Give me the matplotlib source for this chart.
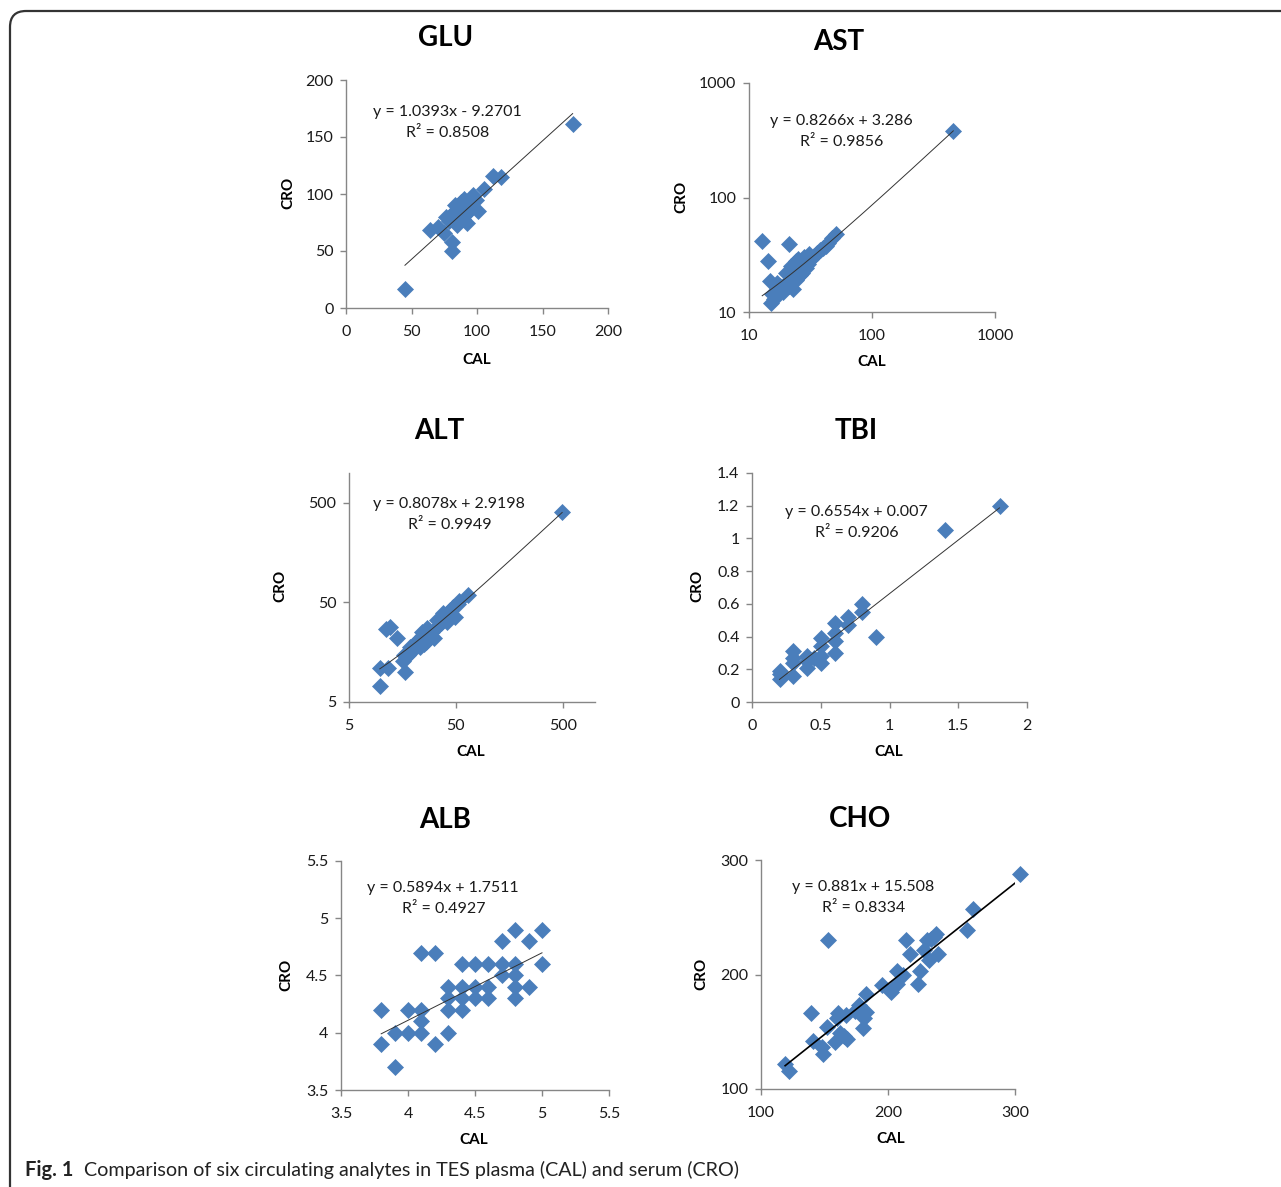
import numpy as np
import matplotlib
matplotlib.use("Agg")
import matplotlib.pyplot as plt
from matplotlib.patches import FancyBboxPatch

plt.rcParams['font.family'] = ['Lato', 'DejaVu Sans']

W, H = 1281, 1187
BLUE = '#4a7ebb'
AX_GRAY = '#868686'

# ---- data (CAL vs CRO) ----
glu_cal = [173, 45, 81, 81, 64, 70, 75, 112, 118, 105, 101, 92, 97, 99, 90, 87, 82, 79,
           89, 95, 76, 84, 86, 88, 93, 80, 85, 94, 83, 91]
glu_cro = [161, 17, 50, 58, 68, 71, 66, 116, 115, 104, 85, 75, 99, 95, 96, 89, 83, 76,
           78, 91, 80, 86, 80, 93, 84, 78, 73, 88, 90, 82]

ast_cal = [458, 12.8, 21, 14.3, 14.8, 15, 16, 15.5, 17, 18, 19, 20, 21, 22, 23, 22, 24, 25,
           26, 27, 28, 30, 32, 34, 36, 38, 42, 44, 47, 51, 19, 24, 26, 29, 20, 23, 17, 31, 40, 28, 25]
ast_cro = [379, 42, 39, 28, 18.5, 12, 13, 14.5, 15, 17, 16, 18, 17, 20, 22, 25, 28, 24,
           27, 22, 30, 26, 29, 31, 33, 35, 38, 40, 44, 48, 15, 19, 21, 24, 22, 16, 18, 32, 36, 27, 29]

alt_cal = [493, 11, 12, 14, 9.7, 9.7, 11.5, 16.7, 16, 16.5, 18.5, 21, 24, 28, 23, 26, 31, 20,
           22, 25, 35, 33, 38, 41, 47, 49, 54, 65, 30, 27, 36, 44, 52, 19, 24, 29, 18]
alt_cro = [403, 27, 28.5, 22, 11, 7.2, 11, 10, 13, 15, 18, 20, 23, 26, 18, 20, 22, 17,
           21, 19, 30, 33, 39, 32, 45, 36, 52, 60, 25, 28, 31, 42, 48, 16, 25, 23, 15]

tbi_cal = [1.8, 1.4, 0.9, 0.8, 0.8, 0.7, 0.7, 0.6, 0.6, 0.6, 0.6, 0.5, 0.5, 0.5, 0.5,
           0.4, 0.4, 0.4, 0.3, 0.3, 0.3, 0.3, 0.2, 0.2, 0.2, 0.45]
tbi_cro = [1.2, 1.05, 0.4, 0.6, 0.55, 0.52, 0.47, 0.48, 0.42, 0.37, 0.3, 0.39, 0.34, 0.28, 0.24,
           0.28, 0.25, 0.21, 0.31, 0.27, 0.24, 0.16, 0.19, 0.17, 0.14, 0.27]

alb_cal = [3.8, 3.8, 3.9, 3.9, 4.0, 4.0, 4.1, 4.1, 4.1, 4.1, 4.2, 4.2, 4.3, 4.3, 4.3, 4.3,
           4.4, 4.4, 4.4, 4.4, 4.5, 4.5, 4.5, 4.6, 4.6, 4.6, 4.7, 4.7, 4.7, 4.8, 4.8, 4.8,
           4.8, 4.8, 4.9, 4.9, 5.0, 5.0]
alb_cro = [4.2, 3.9, 3.7, 4.0, 4.2, 4.0, 4.7, 4.2, 4.1, 4.0, 4.7, 3.9, 4.4, 4.3, 4.2, 4.0,
           4.6, 4.4, 4.3, 4.2, 4.6, 4.4, 4.3, 4.6, 4.4, 4.3, 4.8, 4.6, 4.5, 4.9, 4.6, 4.5,
           4.4, 4.3, 4.8, 4.4, 4.9, 4.6]

cho_cal = [304, 267, 262, 238, 234, 236, 231, 214, 153, 228, 217, 239, 232, 225, 207, 212,
           224, 207, 195, 202, 183, 177, 174, 183, 181, 180, 161, 160, 167, 139, 152, 141,
           148, 149, 158, 162, 165, 168, 119, 122]
cho_cro = [288, 257, 239, 235, 231, 233, 230, 230, 230, 221, 218, 218, 213, 203, 203, 200,
           192, 192, 191, 185, 183, 173, 168, 167, 162, 153, 166, 162, 165, 166, 154, 142,
           137, 131, 141, 149, 146, 144, 122, 116]

# trendline coefficients and labels
glu_fit = (1.0393, -9.2701)
ast_fit = (0.8266, 3.286)
alt_fit = (0.8078, 2.9198)
tbi_fit = (0.6554, 0.007)
alb_fit = (0.5894, 1.7511)
cho_fit = (0.881, 15.508)

glu_eq = ['y = 1.0393x - 9.2701', 'R² = 0.8508']
ast_eq = ['y = 0.8266x + 3.286', 'R² = 0.9856']
alt_eq = ['y = 0.8078x + 2.9198', 'R² = 0.9949']
tbi_eq = ['y = 0.6554x + 0.007', 'R² = 0.9206']
alb_eq = ['y = 0.5894x + 1.7511', 'R² = 0.4927']
cho_eq = ['y = 0.881x + 15.508', 'R² = 0.8334']

fig = plt.figure(figsize=(W / 100, H / 100), dpi=100)

# background axes in pixel coordinates for frame / free text
bg = fig.add_axes([0, 0, 1, 1], zorder=-5)
bg.set_xlim(0, W)
bg.set_ylim(H, 0)
bg.axis('off')
bg.add_patch(FancyBboxPatch((10, 11), W + 40, H + 40,
                            boxstyle='round,pad=0,rounding_size=16',
                            fc='white', ec='#333333', lw=1.6))


def panel(box, cal, cro, fit, eq, title, title_xy, eq_xy, cro_xy, cal_xy,
          xlim, ylim, xticks, yticks, xtl, ytl, log=False, lw=0.7, lc='#333333'):
    l, t, r, b = box
    ax = fig.add_axes([l / W, 1 - b / H, (r - l) / W, (b - t) / H])
    if log:
        ax.set_xscale('log')
        ax.set_yscale('log')
    ax.plot(cal, cro, 'D', color=BLUE, ms=8, mec=BLUE, mew=0.5, zorder=2, clip_on=False)
    lo, hi = min(cal), max(cal)
    xs = np.geomspace(lo, hi, 200) if log else np.array([lo, hi])
    ax.plot(xs, fit[0] * xs + fit[1], color=lc, lw=lw, zorder=3)
    ax.set_xlim(*xlim)
    ax.set_ylim(*ylim)
    ax.set_xticks(xticks)
    ax.set_yticks(yticks)
    ax.set_xticklabels(xtl)
    ax.set_yticklabels(ytl)
    ax.minorticks_off()
    for s in ['top', 'right']:
        ax.spines[s].set_visible(False)
    for s in ['left', 'bottom']:
        ax.spines[s].set_color(AX_GRAY)
        ax.spines[s].set_linewidth(1.0)
    ax.tick_params(axis='both', colors=AX_GRAY, labelcolor='#1a1a1a', length=4,
                   width=1.0, labelsize=11.5)
    ax.tick_params(axis='x', pad=8)
    ax.tick_params(axis='y', pad=5)
    ax.patch.set_alpha(0)
    bg.text(title_xy[0], title_xy[1], title, ha='center', va='center',
            fontsize=20, fontweight='bold')
    bg.text(eq_xy[0], eq_xy[1], eq[0], ha='center', va='center', fontsize=11.5, color='#1a1a1a')
    bg.text(eq_xy[0] + 1, eq_xy[1] + 21, eq[1], ha='center', va='center', fontsize=11.5, color='#1a1a1a')
    bg.text(cro_xy[0], cro_xy[1], 'CRO', ha='center', va='center', rotation=90,
            fontsize=11, fontweight='bold')
    bg.text(cal_xy[0], cal_xy[1], 'CAL', ha='center', va='center',
            fontsize=11, fontweight='bold')
    return ax


panel((346, 80, 608, 308), glu_cal, glu_cro, glu_fit, glu_eq, 'GLU', (446, 38), (447, 112),
      (288, 193), (477, 360), (0, 200), (0, 200), [0, 50, 100, 150, 200], [0, 50, 100, 150, 200],
      ['0', '50', '100', '150', '200'], ['0', '50', '100', '150', '200'])

panel((749, 83, 995, 312), ast_cal, ast_cro, ast_fit, ast_eq, 'AST', (839, 42), (841, 121),
      (681, 197), (872, 362), (10, 1000), (10, 1000), [10, 100, 1000], [10, 100, 1000],
      ['10', '100', '1000'], ['10', '100', '1000'], log=True)

panel((349, 473, 595, 702), alt_cal, alt_cro, alt_fit, alt_eq, 'ALT', (439, 431), (449, 504),
      (280, 586), (471, 752), (5, 1000), (5, 1000), [5, 50, 500], [5, 50, 500],
      ['5', '50', '500'], ['5', '50', '500'], log=True)

panel((752, 473, 1027, 702), tbi_cal, tbi_cro, tbi_fit, tbi_eq, 'TBI', (856, 431), (856, 512),
      (697, 586), (889, 752), (0, 2), (0, 1.4), [0, 0.5, 1, 1.5, 2],
      [0, 0.2, 0.4, 0.6, 0.8, 1.0, 1.2, 1.4],
      ['0', '0.5', '1', '1.5', '2'], ['0', '0.2', '0.4', '0.6', '0.8', '1', '1.2', '1.4'])

panel((341, 861, 609, 1090), alb_cal, alb_cro, alb_fit, alb_eq, 'ALB', (445, 820), (443, 888),
      (286, 975), (474, 1140), (3.5, 5.5), (3.5, 5.5), [3.5, 4, 4.5, 5, 5.5],
      [3.5, 4, 4.5, 5, 5.5], ['3.5', '4', '4.5', '5', '5.5'], ['3.5', '4', '4.5', '5', '5.5'])

panel((761, 860, 1015, 1089), cho_cal, cho_cro, cho_fit, cho_eq, 'CHO', (860, 819), (863, 887),
      (701, 974), (891, 1139), (100, 300), (100, 300), [100, 200, 300], [100, 200, 300],
      ['100', '200', '300'], ['100', '200', '300'], lw=1.2, lc='black')

# caption
bg.text(25, 1170, 'Fig. 1', ha='left', va='center', fontsize=14.5, fontweight='bold',
        color='#222222')
bg.text(84, 1170, 'Comparison of six circulating analytes in TES plasma (CAL) and serum (CRO)',
        ha='left', va='center', fontsize=14.2, color='#222222')

fig.savefig('out.png', dpi=100)
